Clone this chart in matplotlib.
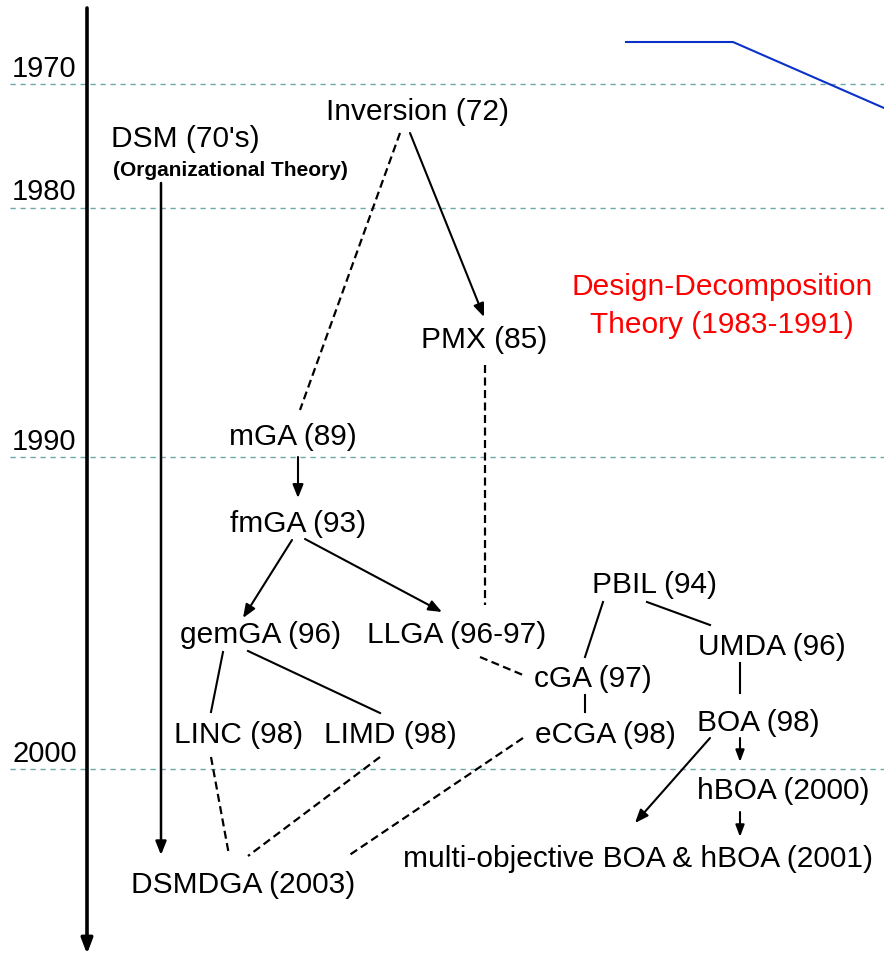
import matplotlib
matplotlib.use("Agg")
import matplotlib.pyplot as plt

plt.rcParams["font.family"] = ["Liberation Sans", "DejaVu Sans"]
plt.rcParams["lines.scale_dashes"] = False

# timeline rows
years = ["1970", "1980", "1990", "2000"]
year_text_y = [77, 200, 450, 762]
year_line_y = [84, 208, 457, 769]

# nodes: key, label, centre x, baseline y (pixels)
node_keys = ["DSM", "Inv", "PMX", "mGA", "fmGA", "gemGA", "LLGA", "LINC", "LIMD",
             "PBIL", "UMDA", "cGA", "eCGA", "BOA", "hBOA", "multi", "DSMDGA"]
node_labels = ["DSM (70's)", "Inversion (72)", "PMX (85)", "mGA (89)", "fmGA (93)",
               "gemGA (96)", "LLGA (96-97)", "LINC (98)", "LIMD (98)", "PBIL (94)",
               "UMDA (96)", "cGA (97)", "eCGA (98)", "BOA (98)", "hBOA (2000)",
               "multi-objective BOA & hBOA (2001)", "DSMDGA (2003)"]
node_x = [185, 417, 484, 293, 298, 261, 457, 239, 390, 654, 772, 593, 605, 758, 783, 638, 243]
node_y = [147, 120, 348, 445, 532, 643, 643, 743, 743, 593, 655, 687, 743, 731, 799, 867, 893]

# edges: source, target, kind, offset from source anchor, offset from target anchor
edges = [
    ("DSM", "DSMDGA", "arrow", (-24, 36), (-82, -38)),
    ("Inv", "mGA", "dash", (-17, 13), (7, -35)),
    ("Inv", "PMX", "arrow", (-7, 13), (0, -31)),
    ("PMX", "LLGA", "dash", (1, 17), (28, -38)),
    ("mGA", "fmGA", "arrow", (5, 12), (0, -34)),
    ("fmGA", "gemGA", "arrow", (-6, 8), (-18, -25)),
    ("fmGA", "LLGA", "arrow", (7, 7), (-15, -31)),
    ("gemGA", "LINC", "line", (-38, 9), (-28, -31)),
    ("gemGA", "LIMD", "line", (-13, 8), (-10, -30)),
    ("LLGA", "cGA", "dash", (23, 14), (-70, -12)),
    ("PBIL", "cGA", "line", (-51, 9), (-8, -30)),
    ("PBIL", "UMDA", "line", (-7, 9), (-62, -30)),
    ("cGA", "eCGA", "line", (-8, 8), (-20, -31)),
    ("UMDA", "BOA", "line", (-32, 8), (-18, -38)),
    ("BOA", "hBOA", "arrow_small", (-18, 7), (-43, -37)),
    ("BOA", "multi", "arrow", (-48, 7), (-3, -44)),
    ("hBOA", "multi", "arrow_small", (-43, 13), (102, -30)),
    ("LINC", "DSMDGA", "dash", (-28, 14), (-14, -38)),
    ("LIMD", "DSMDGA", "dash", (-10, 14), (5, -37)),
    ("eCGA", "DSMDGA", "dash", (-82, -5), (105, -37)),
]

theory_lines = ["Design-Decomposition", "Theory (1983-1991)"]
theory_y = [295, 333]
blue_x = [626, 733, 884]
blue_y = [42, 42, 108]

fig = plt.figure(figsize=(8.84, 9.55), dpi=100)
ax = fig.add_axes([0, 0, 1, 1])
ax.set_xlim(0, 884)
ax.set_ylim(955, 0)
ax.axis("off")

# dashed year gridlines and labels
for label, ty, ly in zip(years, year_text_y, year_line_y):
    ax.plot([10, 884], [ly, ly], color="#6fa8a8", lw=1.0, dashes=(3.8, 3.4))
    ax.text(12, ty, label, fontsize=21, ha="left", va="baseline")

# main time axis
ax.annotate("", xy=(87, 954), xytext=(87, 8),
            arrowprops=dict(arrowstyle="-|>,head_length=9,head_width=3.4",
                            mutation_scale=1, lw=2.6, color="black",
                            shrinkA=0, shrinkB=0))

# blue fragment top right
ax.plot(blue_x, blue_y, color="#0a32c8", lw=1.5)

pos = {k: (x, y) for k, x, y in zip(node_keys, node_x, node_y)}
for k, lab in zip(node_keys, node_labels):
    x, y = pos[k]
    ax.text(x, y, lab, fontsize=21.5, ha="center", va="baseline")
ax.text(230, 176, "(Organizational Theory)", fontsize=15, fontweight="bold",
        ha="center", va="baseline")

for line, y in zip(theory_lines, theory_y):
    ax.text(722, y, line, fontsize=21.5, color="red", ha="center", va="baseline")

for src, dst, kind, o0, o1 in edges:
    x0, y0 = pos[src][0] + o0[0], pos[src][1] + o0[1]
    x1, y1 = pos[dst][0] + o1[0], pos[dst][1] + o1[1]
    if kind == "dash":
        ax.plot([x0, x1], [y0, y1], color="black", lw=1.6, dashes=(5.8, 3.2))
    elif kind == "line":
        ax.plot([x0, x1], [y0, y1], color="black", lw=1.5)
    else:
        lw = 1.8 if src == "DSM" else 1.5
        hl, hw = (7, 2.6) if kind == "arrow_small" else (8, 3.2)
        ax.annotate("", xy=(x1, y1), xytext=(x0, y0),
                    arrowprops=dict(arrowstyle=f"-|>,head_length={hl},head_width={hw}",
                                    mutation_scale=1, lw=lw, color="black",
                                    shrinkA=0, shrinkB=0))

fig.savefig("out.png", dpi=100)
